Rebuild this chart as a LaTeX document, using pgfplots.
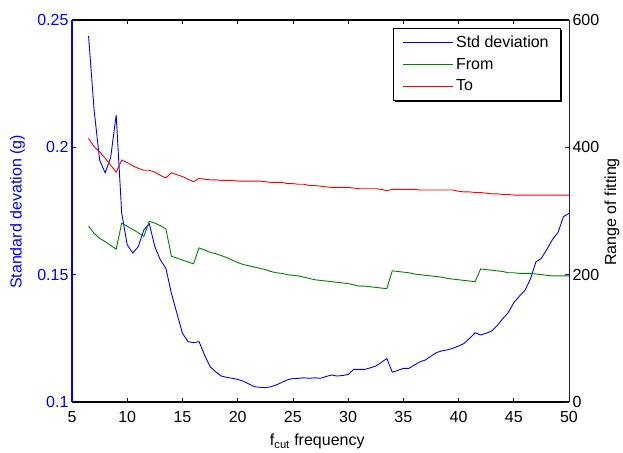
\documentclass[border=0pt]{standalone}
\usepackage{pgfplots}
\pgfplotsset{compat=1.18}
\usepackage{pgfplotstable}
\usepackage{fontspec}
\setmainfont{Liberation Sans}
\definecolor{mblue}{rgb}{0,0,1}
\definecolor{mgreen}{rgb}{0,0.5,0}
\definecolor{mred}{rgb}{1,0,0}
\definecolor{mnavy}{rgb}{0.1,0.1,0.45}
\newcommand{\fs}{\fontsize{16}{19}\selectfont}

\pgfplotstableread{
x y
6.5 0.2437
7.0 0.2147
7.5 0.1950
8.0 0.1900
8.5 0.1960
9.0 0.2127
9.5 0.1742
10.0 0.1617
10.5 0.1585
11.0 0.1610
11.5 0.1675
12.0 0.1700
12.5 0.1610
13.0 0.1558
13.5 0.1525
14.0 0.1427
14.5 0.1348
15.0 0.1270
15.5 0.1237
16.0 0.1233
16.5 0.1237
17.0 0.1185
17.5 0.1139
18.0 0.1119
18.5 0.1102
19.0 0.1097
19.5 0.1093
20.0 0.1089
20.5 0.1082
21.0 0.1071
21.5 0.1060
22.0 0.1058
22.5 0.1056
23.0 0.1060
23.5 0.1067
24.0 0.1077
24.5 0.1087
25.0 0.1092
25.5 0.1093
26.0 0.1095
26.5 0.1093
27.0 0.1095
27.5 0.1093
28.0 0.1100
28.5 0.1106
29.0 0.1102
29.5 0.1104
30.0 0.1108
30.5 0.1128
31.0 0.1128
31.5 0.1128
32.0 0.1134
32.5 0.1141
33.0 0.1155
33.5 0.1171
34.0 0.1117
34.5 0.1124
35.0 0.1132
35.5 0.1132
36.0 0.1145
36.5 0.1158
37.0 0.1165
37.5 0.1180
38.0 0.1194
38.5 0.1201
39.0 0.1205
39.5 0.1211
40.0 0.1220
40.5 0.1230
41.0 0.1250
41.5 0.1272
42.0 0.1263
42.5 0.1270
43.0 0.1279
43.5 0.1300
44.0 0.1327
44.5 0.1351
45.0 0.1390
45.5 0.1415
46.0 0.1438
46.5 0.1482
47.0 0.1550
47.5 0.1564
48.0 0.1600
48.5 0.1638
49.0 0.1665
49.5 0.1728
50.0 0.1741
}\stdtab

\pgfplotstableread{
x from to
6.5 276 414
7.0 265 401
7.5 257 393
8.0 252 383
8.5 246 372
9.0 240 361
9.5 281 380
10.0 276 376
10.5 271 371
11.0 266 367
11.5 260 364
12.0 284 364
12.5 281 361
13.0 277 356
13.5 272 352
14.0 229 360
14.5 226 357
15.0 223 354
15.5 220 350
16.0 217 346
16.5 242 351
17.0 239 350
17.5 235 349
18.0 233 349
18.5 230 348
19.0 227 348
19.5 223 348
20.0 219 347
20.5 216 347
21.0 214 347
21.5 212 347
22.0 210 347
22.5 208 346
23.0 205 345
23.5 203 345
24.0 202 345
24.5 200 343
25.0 199 343
25.5 198 342
26.0 196 342
26.5 194 340
27.0 192 340
27.5 191 339
28.0 190 338
28.5 189 337
29.0 188 337
29.5 187 337
30.0 186 337
30.5 184 336
31.0 182 335
31.5 182 335
32.0 181 335
32.5 180 335
33.0 179 334
33.5 178 332
34.0 206 334
34.5 205 334
35.0 204 334
35.5 203 334
36.0 201 334
36.5 200 333
37.0 199 333
37.5 198 333
38.0 197 333
38.5 196 333
39.0 194 333
39.5 193 333
40.0 192 331
40.5 191 330
41.0 190 330
41.5 189 329
42.0 209 329
42.5 208 328
43.0 207 327
43.5 206 327
44.0 205 326
44.5 203 326
45.0 203 325
45.5 202 325
46.0 202 325
46.5 202 325
47.0 201 325
47.5 200 325
48.0 199 325
48.5 198 325
49.0 198 325
49.5 198 325
50.0 198 325
}\rangetab

\begin{document}
\begin{tikzpicture}
\useasboundingbox (-72pt,-50pt) rectangle (551pt,402pt);
\begin{axis}[
  at={(0pt,0pt)}, anchor=south west,
  scale only axis, width=497pt, height=382pt,
  xmin=5, xmax=50, ymin=0.1, ymax=0.25,
  axis x line=box, axis y line*=left,
  separate axis lines,
  x axis line style={black, line width=1.1pt},
  y axis line style={mblue, line width=1.1pt},
  xtick={5,10,...,50},
  ytick={0.1,0.15,0.2,0.25},
  yticklabels={0.1,0.15,0.2,0.25},
  tick align=inside, major tick length=4pt,
  xtick pos=both,
  x tick style={black, line width=0.7pt},
  y tick style={mblue, line width=0.7pt},
  tick label style={font=\fs},
  x tick label style={yshift=-6pt},
  y tick label style={text=mblue},
  /pgf/number format/assume math mode=true,
  xlabel={f\textsubscript{cut} frequency},
  ylabel={Standard devation (g)},
  every axis x label/.style={at={(axis description cs:0.4935,-0.103)}, anchor=center, font=\fs},
  every axis y label/.style={at={(axis description cs:-0.1097,0.4974)}, rotate=90, anchor=center, font=\fs, text=mblue},
]
\addplot[mblue, line width=0.9pt] table[x=x, y=y] {\stdtab};
\end{axis}
\begin{axis}[
  at={(0pt,0pt)}, anchor=south west,
  scale only axis, width=497pt, height=382pt,
  xmin=5, xmax=50, ymin=0, ymax=600,
  axis x line=none, axis y line*=right,
  y axis line style={mnavy, line width=0.7pt},
  ytick={0,200,400,600},
  tick align=inside, major tick length=4pt,
  y tick style={mnavy, line width=0.7pt},
  tick label style={font=\fs},
  /pgf/number format/assume math mode=true,
  ylabel={Range of fitting},
  every axis y label/.style={at={(axis description cs:1.0865,0.4974)}, rotate=90, anchor=center, font=\fs},
  legend style={name=leg, at={(axis description cs:0.6459,0.979)}, anchor=north west,
    draw=black, fill=white, font=\fs,
    inner xsep=9pt, inner ysep=5pt, row sep=3pt,
    nodes={inner sep=3pt},
    /tikz/every odd column/.append style={column sep=0pt}},
  legend cell align=left,
  legend image code/.code={\draw[line width=0.9pt] (0pt,0pt) -- (50pt,0pt);},
]
\addlegendimage{color=mblue, line width=0.9pt}
\addlegendentry{Std deviation}
\addplot[color=mgreen, line width=0.9pt] table[x=x, y=from] {\rangetab};
\addlegendentry{From}
\addplot[color=mred, line width=0.9pt] table[x=x, y=to] {\rangetab};
\addlegendentry{To}
\end{axis}
\draw[black, line width=1.3pt] ([xshift=1pt,yshift=-1.5pt]leg.north east) -- ([xshift=1pt,yshift=-1pt]leg.south east) -- ([xshift=1.5pt,yshift=-1pt]leg.south west);
\end{tikzpicture}
\end{document}
